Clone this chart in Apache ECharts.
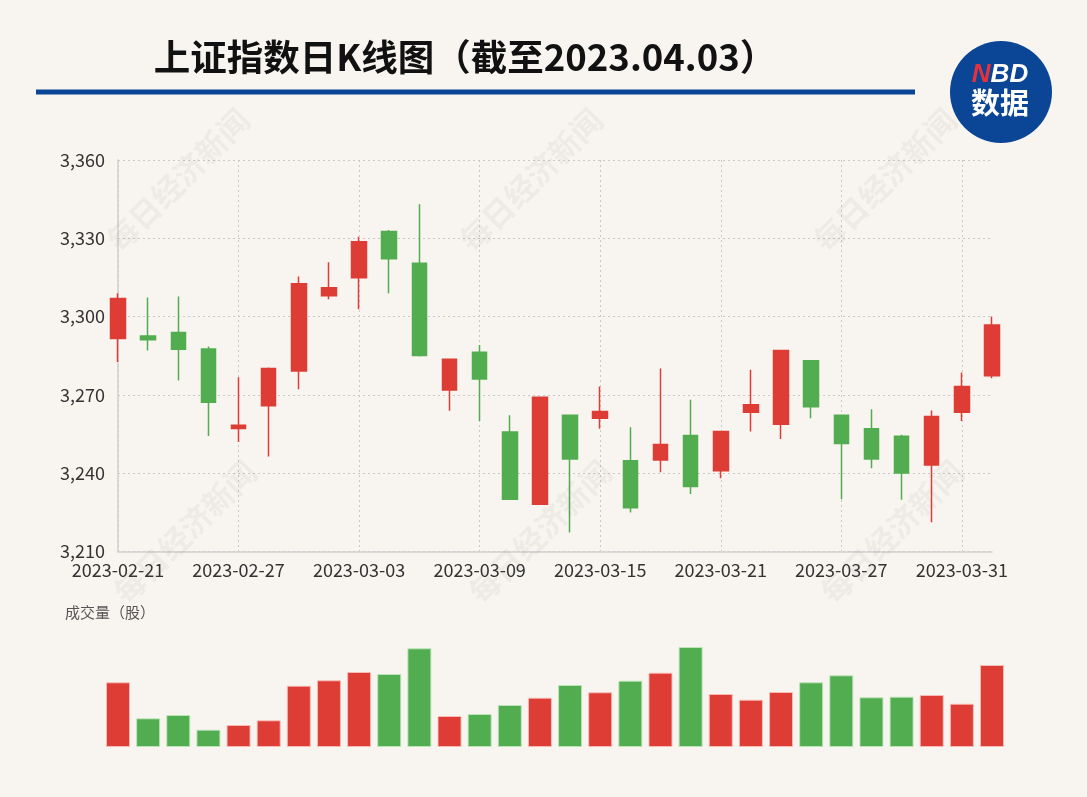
<!DOCTYPE html>
<html><head><meta charset="utf-8">
<script src="https://cdn.jsdelivr.net/npm/echarts@6/dist/echarts.min.js"></script>
<style>html,body{margin:0;padding:0;background:#f8f5f0;}#c{width:1087px;height:797px;}</style>
</head><body><div id="c"></div>
<script>
const dates = ['2023-02-21','2023-02-22','2023-02-23','2023-02-24','2023-02-27','2023-02-28',
  '2023-03-01','2023-03-02','2023-03-03','2023-03-06','2023-03-07','2023-03-08','2023-03-09','2023-03-10',
  '2023-03-13','2023-03-14','2023-03-15','2023-03-16','2023-03-17','2023-03-20','2023-03-21','2023-03-22',
  '2023-03-23','2023-03-24','2023-03-27','2023-03-28','2023-03-29','2023-03-30','2023-03-31','2023-04-03'];
const opens  = [3291.6,3292.6,3293.9,3287.6,3257.1,3265.8,3279.2,3308.0,3314.9,3332.6,3320.4,3271.9,3286.3,3255.8,3228.1,3262.2,3261.1,3244.8,3245.1,3254.4,3240.9,3263.4,3258.8,3283.1,3262.2,3257.0,3254.2,3243.1,3263.4,3277.3];
const closes = [3306.9,3291.1,3287.5,3267.2,3258.4,3280.1,3312.6,3311.1,3328.7,3322.2,3285.1,3283.7,3276.1,3230.0,3269.1,3245.4,3263.6,3226.8,3251.0,3234.9,3256.0,3266.2,3287.0,3265.5,3251.4,3245.4,3240.1,3261.7,3273.2,3296.8];
const lows   = [3282.6,3287.0,3275.5,3254.3,3252.0,3246.4,3272.2,3306.6,3302.8,3308.9,3284.7,3263.9,3260.0,3229.8,3227.9,3217.3,3257.0,3224.9,3240.4,3232.0,3238.1,3256.0,3253.1,3261.1,3230.0,3241.9,3229.8,3221.2,3260.0,3276.4];
const highs  = [3308.9,3307.3,3307.7,3288.5,3276.8,3280.5,3315.4,3320.8,3330.6,3333.2,3343.0,3283.9,3289.1,3262.2,3269.3,3262.4,3273.2,3257.6,3280.1,3268.1,3256.2,3279.6,3287.2,3283.3,3262.4,3264.5,3254.7,3264.0,3278.6,3300.0];
const volumes = [64.7,28.7,32.0,17.3,22.0,26.7,61.3,66.7,75.0,73.0,98.7,31.0,33.0,42.0,49.3,62.0,54.7,66.3,74.3,100.0,53.0,47.3,55.0,64.7,71.7,49.7,50.3,52.0,43.3,82.0];
const yTicks = [3210,3240,3270,3300,3330,3360];

const RED = '#dd3d35', GREEN = '#52ad50';
const FONT = '"Noto Sans CJK SC","Noto Sans",sans-serif';

const kData = dates.map((d,i)=>[opens[i],closes[i],lows[i],highs[i]]);
const volData = volumes.map((v,i)=>({value:v,itemStyle:{color: closes[i]>=opens[i]?RED:GREEN,
  borderColor: closes[i]>=opens[i]?'rgba(250,190,185,0.9)':'rgba(190,230,185,0.9)', borderWidth:1}}));

const wmPos = [[178,180],[531,180],[885,180],[185,532],[540,532],[892,532]];
const watermarks = wmPos.map(p=>({type:'text', x:p[0], y:p[1], rotation:Math.PI/4, z:100, silent:true,
  style:{text:'每日经济新闻', font:'bold 31px "Noto Sans CJK SC",serif', fill:'rgba(110,110,110,0.07)',
  textAlign:'center', textVerticalAlign:'middle'}}));

const chart = echarts.init(document.getElementById('c'), null, {renderer:'canvas'});
chart.setOption({
  backgroundColor:'#f8f5f0',
  animation:false,
  textStyle:{fontFamily:FONT},
  graphic: [
    {type:'text', x:465, y:57, style:{text:'上证指数日K线图（截至2023.04.03）', font:'bold 36.5px '+FONT, fill:'#111', textAlign:'center', textVerticalAlign:'middle'}},
    {type:'rect', shape:{x:36, y:89.5, width:879, height:5}, style:{fill:'#0b4596'}},
    {type:'circle', shape:{cx:1001, cy:92, r:51}, style:{fill:'#0b4596'}},
    {type:'text', x:1000, y:75, style:{rich:{n:{fill:'#e8313a', font:'italic bold 26px "Liberation Sans",sans-serif'}, b:{fill:'#fff', font:'italic bold 26px "Liberation Sans",sans-serif'}}, text:'{n|N}{b|BD}', textAlign:'center', textVerticalAlign:'middle'}},
    {type:'text', x:1000, y:103, style:{text:'数据', font:'bold 29px '+FONT, fill:'#fff', textAlign:'center', textVerticalAlign:'middle'}},
    {type:'text', x:65, y:612, style:{text:'成交量（股）', font:'15px '+FONT, fill:'#555', textVerticalAlign:'middle'}},
    ...watermarks
  ],
  grid:[
    {left:118, right:95, top:160, bottom:245.5},
    {left:118, right:95, top:636, bottom:50}
  ],
  xAxis:[
    {type:'category', gridIndex:0, data:dates, boundaryGap:false,
     axisLine:{lineStyle:{color:'#cfcfcf', width:1.5}}, axisTick:{show:false},
     axisLabel:{interval:3, color:'#333', fontSize:18, margin:10, fontFamily:FONT},
     splitLine:{show:true, interval:3, lineStyle:{color:'#c8c8c8', type:[2,3]}}},
    {type:'category', gridIndex:1, data:dates, boundaryGap:false, show:false}
  ],
  yAxis:[
    {type:'value', gridIndex:0, min:yTicks[0], max:yTicks[yTicks.length-1], interval:30,
     axisLine:{show:true, lineStyle:{color:'#cfcfcf', width:1.5}}, axisTick:{show:false},
     axisLabel:{color:'#333', fontSize:18, margin:13, fontFamily:FONT, formatter:v=>v.toLocaleString('en-US')},
     splitLine:{show:true, lineStyle:{color:'#c8c8c8', type:[2,3]}}},
    {type:'value', gridIndex:1, min:0, max:111, show:false, splitLine:{show:false}}
  ],
  series:[
    {type:'candlestick', xAxisIndex:0, yAxisIndex:0, data:kData, barWidth:15, clip:false,
     itemStyle:{color:RED, color0:GREEN, borderColor:RED, borderColor0:GREEN, borderWidth:1.5}},
    {type:'bar', xAxisIndex:1, yAxisIndex:1, data:volData, barWidth:24, clip:false}
  ]
});
</script></body></html>
